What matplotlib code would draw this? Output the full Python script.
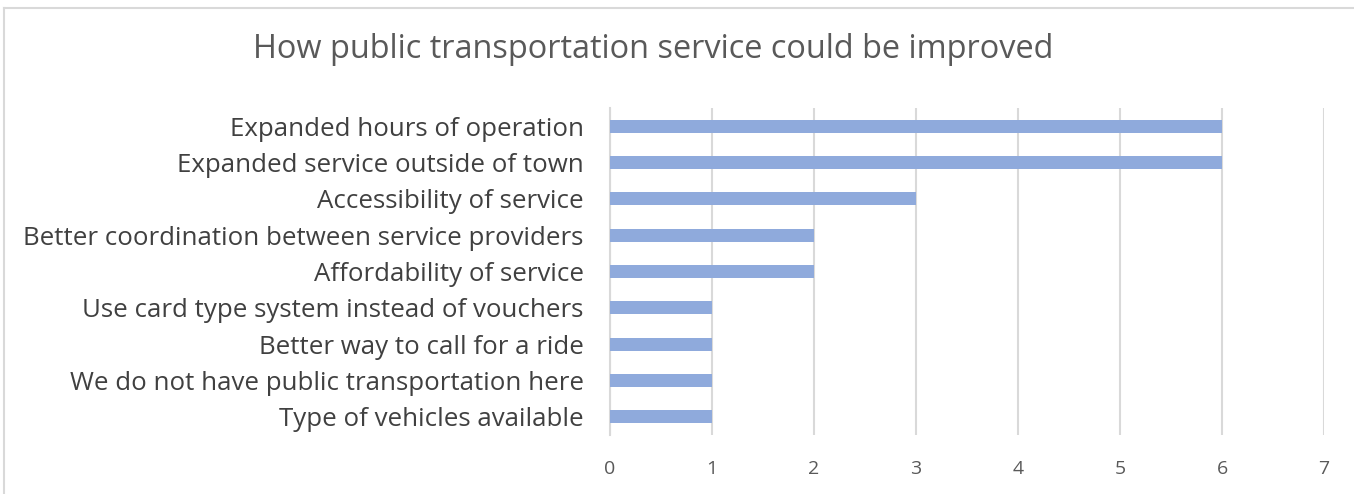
import matplotlib.pyplot as plt
from matplotlib.lines import Line2D

# datos del grafico
categorias = ['Expanded hours of operation',
              'Expanded service outside of town',
              'Accessibility of service',
              'Better coordination between service providers',
              'Affordability of service',
              'Use card type system instead of vouchers',
              'Better way to call for a ride',
              'We do not have public transportation here',
              'Type of vehicles available']
valores = [6, 6, 3, 2, 2, 1, 1, 1, 1]
ticks_x = [0, 1, 2, 3, 4, 5, 6, 7]

plt.rcParams['font.family'] = ['Open Sans', 'DejaVu Sans']

fig = plt.figure(figsize=(13.54, 4.94), dpi=100)
ax = fig.add_axes([610 / 1354, 59 / 494, 714 / 1354, 327 / 494])

# marco del grafico (solo se ve izquierda y arriba)
gris = '#d9d9d9'
fig.add_artist(Line2D([4 / 1354, 4 / 1354], [0, 1 - 8 / 494], color=gris, lw=1.5))
fig.add_artist(Line2D([4 / 1354, 1], [1 - 8 / 494, 1 - 8 / 494], color=gris, lw=1.5))

pos = list(range(len(categorias)))
ax.barh(pos, valores, height=0.36, color='#8faadc', zorder=3)
ax.set_ylim(len(categorias) - 0.5, -0.5)
ax.set_yticks(pos)
ax.set_yticklabels(categorias, fontsize=18.6, color='#404040')
ax.set_xlim(0, 7)
ax.set_xticks(ticks_x)
ax.set_xticklabels([str(t) for t in ticks_x], fontsize=14, color='#595959')
ax.tick_params(length=0, pad=19, axis='y')
ax.tick_params(length=0, pad=18, axis='x')
ax.grid(axis='x', color=gris, lw=1.5, zorder=0)
for s in ['top', 'right', 'bottom']:
    ax.spines[s].set_visible(False)
ax.spines['left'].set_color(gris)
ax.spines['left'].set_linewidth(1.5)

fig.text(653 / 1354, 1 - 50 / 494, 'How public transportation service could be improved',
         ha='center', va='center', fontsize=23.4, color='#595959')

plt.savefig('out.png', dpi=100)
